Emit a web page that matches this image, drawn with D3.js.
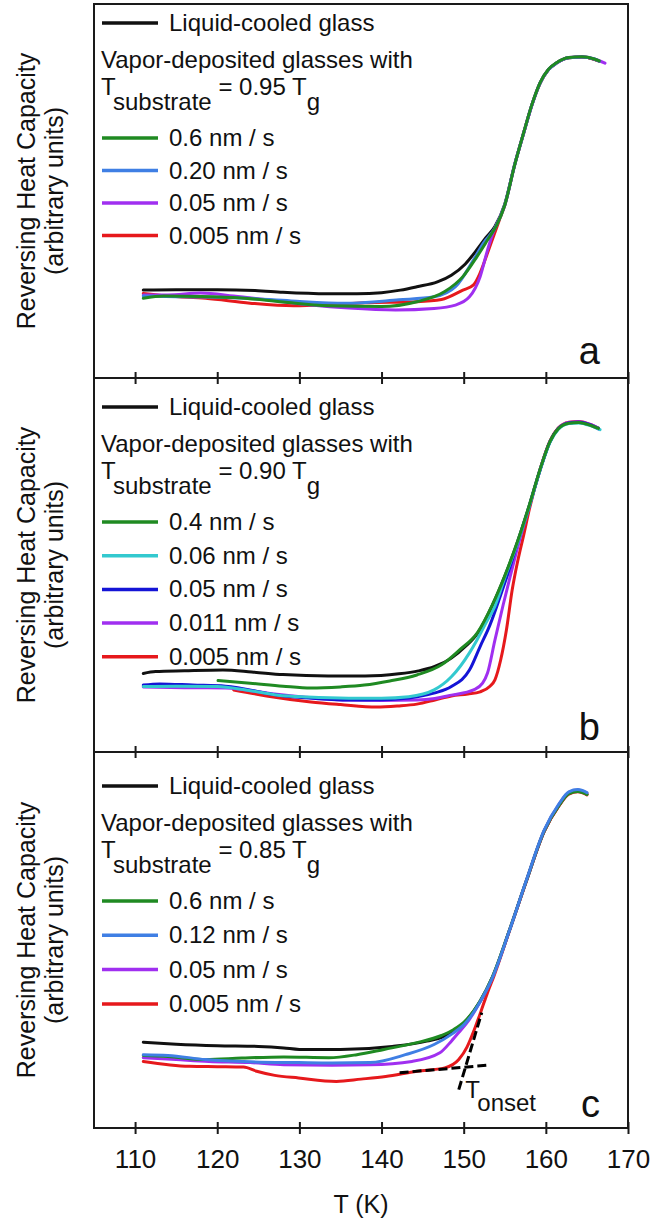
<!DOCTYPE html>
<html>
<head>
<meta charset="utf-8">
<script src="https://cdn.jsdelivr.net/npm/d3@7"></script>
<style>
  body { margin: 0; background: #fff; }
  svg text { font-family: "Liberation Sans", Arial, sans-serif; fill: #111; }
</style>
</head>
<body>
<svg id="chart" width="651" height="1224"></svg>
<script>
// x axis ticks (K)
var tempTicks = [110, 120, 130, 140, 150, 160, 170];

// Panel a : T substrate = 0.95 Tg   ([T in K, reversing Cp in arbitrary units])
var aLiquid = [[111,2.35],[115,2.36],[120,2.36],[124.6,2.34],[128,2.29],[133.5,2.25],[137,2.25],[140,2.28],[142.3,2.35],[144.3,2.44],[146.8,2.57],[148.5,2.75],[150.2,3.05],[151.5,3.40],[152.7,3.75],[153.8,4.05],[155,4.65],[156.2,5.70],[157.3,6.55],[158.3,7.30],[159.3,7.88],[160.3,8.24],[161.3,8.42],[162.8,8.56],[164.4,8.58],[165.9,8.52],[166.5,8.47]];
var a06 = [[111,2.13],[113.5,2.19],[118,2.18],[122.9,2.14],[128,2.03],[133.5,1.93],[140,1.91],[144.3,2.04],[147.7,2.31],[149.9,2.71],[151.6,3.24],[152.9,3.69],[154,4.08],[155,4.62],[156.2,5.69],[157.3,6.56],[158.3,7.31],[159.3,7.90],[160.3,8.25],[161.3,8.43],[162.8,8.57],[164.4,8.59],[165.9,8.53],[166.5,8.48]];
var a020 = [[111,2.19],[116,2.17],[122.9,2.14],[129,2.06],[135.6,2.00],[142.1,2.09],[146.4,2.17],[149,2.44],[151.2,3.16],[152.4,3.61],[153.8,4.01],[155,4.63],[156.2,5.70],[157.3,6.55],[158.3,7.30],[159.3,7.89],[160.3,8.24],[161.3,8.42],[162.8,8.56],[164.4,8.58],[165.9,8.53],[166.5,8.47]];
var a005 = [[111,2.22],[114,2.22],[118,2.27],[122,2.19],[126,2.09],[131.4,1.95],[136,1.87],[141.7,1.82],[146.4,1.86],[149,1.95],[150.7,2.17],[152,2.71],[152.9,3.42],[153.6,3.90],[154.3,4.25],[155,4.62],[156.2,5.70],[157.3,6.55],[158.3,7.30],[159.3,7.89],[160.3,8.24],[161.3,8.42],[162.8,8.57],[164.4,8.59],[165.9,8.53],[167.2,8.42]];
var a0005 = [[111,2.26],[114,2.19],[118.6,2.13],[124,2.00],[129.3,1.93],[133,1.95],[137.9,2.01],[144.3,2.04],[147.3,2.10],[149.9,2.35],[151.2,2.49],[152,2.81],[152.9,3.34],[153.6,3.77],[154.3,4.20],[155,4.62],[156.2,5.70],[157.3,6.55],[158.3,7.30],[159.3,7.89],[160.3,8.24],[161.3,8.42],[162.8,8.56],[164.4,8.58],[165.9,8.52],[166.5,8.47]];
var aRates = ['0.6 nm / s', '0.20 nm / s', '0.05 nm / s', '0.005 nm / s'];

// Panel b : T substrate = 0.90 Tg
var bLiquid = [[111,2.10],[112.5,2.15],[116,2.17],[120.7,2.19],[124.2,2.14],[128,2.07],[133.5,2.03],[138,2.03],[142.1,2.09],[144.5,2.17],[146.4,2.28],[148.5,2.51],[150.2,2.82],[151.7,3.18],[153.5,3.93],[155,4.70],[156.6,5.65],[158,6.60],[159.3,7.55],[160.5,8.30],[161.5,8.65],[162.8,8.80],[164,8.82],[165.5,8.74],[166.4,8.66]];
var b04 = [[120.1,1.91],[124,1.84],[128,1.76],[131.4,1.71],[135,1.74],[137.9,1.79],[141,1.90],[144.3,2.06],[147.3,2.33],[149.5,2.73],[151.7,3.20],[153.5,3.94],[155,4.71],[156.6,5.66],[158,6.61],[159.3,7.56],[160.5,8.30],[161.5,8.64],[162.8,8.79],[164,8.81],[165.5,8.73],[166.4,8.65]];
var b006 = [[111,1.75],[115,1.76],[120,1.75],[123.5,1.66],[127.4,1.52],[131,1.47],[136,1.44],[140,1.44],[143.3,1.48],[146.4,1.66],[148.5,2.01],[150.7,2.65],[151.6,2.99],[152.7,3.45],[153.8,3.90],[155,4.66],[156.6,5.62],[158,6.58],[159.3,7.54],[160.5,8.28],[161.5,8.62],[162.8,8.78],[164,8.80],[165.5,8.72],[166.6,8.62]];
var b005 = [[111,1.79],[113,1.82],[117,1.79],[121,1.76],[127.4,1.52],[132,1.43],[136,1.39],[140,1.40],[144.3,1.48],[146.5,1.58],[148.5,1.75],[150.7,2.19],[152,2.82],[153.2,3.40],[154.5,4.20],[155.5,4.85],[156.6,5.62],[158,6.58],[159.3,7.54],[160.5,8.29],[161.5,8.64],[162.8,8.80],[164,8.82],[165.5,8.74],[166.4,8.64]];
var b0011 = [[111,1.74],[116,1.72],[121,1.71],[127,1.55],[132,1.44],[136,1.39],[140,1.38],[144.3,1.39],[146.5,1.43],[148.5,1.52],[151.2,1.66],[152.3,1.84],[152.9,2.11],[153.8,2.99],[154.8,3.93],[155.7,4.73],[156.6,5.50],[158,6.58],[159.3,7.55],[160.5,8.30],[161.5,8.65],[162.8,8.81],[164,8.83],[165.5,8.75],[166.4,8.66]];
var b0005 = [[122,1.66],[126,1.50],[131.4,1.34],[135,1.27],[139.4,1.20],[142,1.23],[144.3,1.28],[146.5,1.39],[148.5,1.50],[150.5,1.55],[152,1.61],[153.2,1.76],[153.8,1.93],[154.5,2.46],[155.2,3.26],[155.9,4.33],[156.6,5.13],[157.3,5.80],[158,6.50],[159.3,7.56],[160.5,8.31],[161.5,8.66],[162.8,8.82],[164,8.84],[165.5,8.75],[166,8.70]];
var bRates = ['0.4 nm / s', '0.06 nm / s', '0.05 nm / s', '0.011 nm / s', '0.005 nm / s'];

// Panel c : T substrate = 0.85 Tg
var cLiquid = [[111,2.28],[115,2.23],[120,2.19],[125,2.17],[128.1,2.13],[130,2.09],[135,2.09],[141.3,2.17],[145.5,2.31],[148.2,2.49],[150.2,2.83],[152,3.37],[153.5,4.01],[155.5,5.21],[157.6,6.55],[159.8,7.89],[161.6,8.58],[162.8,8.90],[163.9,8.96],[165,8.88]];
var c06 = [[111,1.93],[114,1.90],[118.6,1.82],[123,1.86],[128.1,1.89],[133.6,1.87],[137,1.95],[140.3,2.09],[144.3,2.27],[147.3,2.46],[148.8,2.62],[150.2,2.85],[152,3.38],[153.5,4.02],[155.5,5.22],[157.6,6.56],[159.8,7.90],[161.6,8.58],[162.8,8.89],[163.9,8.95],[165,8.87]];
var c012 = [[111,1.95],[114,1.93],[118.6,1.82],[124,1.76],[129.9,1.74],[134,1.73],[138.6,1.74],[142.9,1.95],[146.4,2.22],[148.5,2.49],[150.3,2.81],[152,3.36],[153.5,4.00],[155.5,5.21],[157.6,6.57],[159.8,7.92],[161.6,8.62],[162.8,8.94],[163.9,9.00],[165,8.92]];
var c005 = [[111,1.87],[115,1.82],[119,1.77],[124,1.74],[128.1,1.68],[134,1.67],[138.6,1.68],[143.7,1.77],[147.1,2.00],[148.5,2.31],[149.4,2.54],[150.7,2.89],[152,3.36],[153.5,4.00],[155.5,5.21],[157.6,6.56],[159.8,7.91],[161.6,8.61],[162.8,8.93],[163.9,8.99],[165,8.91]];
var c0005 = [[111,1.77],[116.6,1.64],[120,1.63],[123.2,1.62],[124.8,1.51],[127,1.40],[129.9,1.33],[134.5,1.24],[137.5,1.30],[140.5,1.37],[144.3,1.51],[147.7,1.60],[149.4,1.82],[150.4,2.15],[151.3,2.62],[152.1,3.10],[152.9,3.60],[153.7,4.05],[155.5,5.20],[157.6,6.55],[159.8,7.89],[161.6,8.57],[162.8,8.88],[163.9,8.94],[165,8.86]];
var cRates = ['0.6 nm / s', '0.12 nm / s', '0.05 nm / s', '0.005 nm / s'];
// construction lines for T onset (panel c)
var cOnsetBase = [[142.2,1.47],[152.9,1.67]];
var cOnsetTangent = [[149.4,1.02],[152.2,3.07]];

var colBlack = '#111111', colGreen = '#1f8a22', colBlue = '#3f7fe4', colPurple = '#a02ff0',
    colRed = '#e6191c', colCyan = '#33c9cf', colNavy = '#1414d6';

// panel set up, built from the arrays above
var panels = [
    { letter: 'a', ratio: '0.95', top: 4, bottom: 378, legTop: 19, letterY: 364,
      series: [
        { data: aLiquid, color: colBlack }, { data: a0005, color: colRed },
        { data: a005, color: colPurple }, { data: a020, color: colBlue }, { data: a06, color: colGreen }
      ],
      legend: [[a06, colGreen], [a020, colBlue], [a005, colPurple], [a0005, colRed]], rates: aRates, rowGap: 32.5 },
    { letter: 'b', ratio: '0.90', top: 378, bottom: 752, legTop: 29, letterY: 740,
      series: [
        { data: bLiquid, color: colBlack }, { data: b0005, color: colRed }, { data: b0011, color: colPurple },
        { data: b005, color: colNavy }, { data: b006, color: colCyan }, { data: b04, color: colGreen }
      ],
      legend: [[b04, colGreen], [b006, colCyan], [b005, colNavy], [b0011, colPurple], [b0005, colRed]], rates: bRates, rowGap: 33.7 },
    { letter: 'c', ratio: '0.85', top: 752, bottom: 1128, legTop: 34, letterY: 1117,
      series: [
        { data: cLiquid, color: colBlack }, { data: c0005, color: colRed }, { data: c005, color: colPurple },
        { data: c06, color: colGreen }, { data: c012, color: colBlue }
      ],
      legend: [[c06, colGreen], [c012, colBlue], [c005, colPurple], [c0005, colRed]], rates: cRates, rowGap: 34.3 }
];

var svg = d3.select('#chart');

var x = d3.scaleLinear()
    .domain([105, 170])
    .range([94, 628]);

var font = '"Liberation Sans", Arial, sans-serif';

panels.forEach(function(p, i) {
    var y = d3.scaleLinear()
        .domain([0, 10])
        .range([p.bottom, p.top]);

    var g = svg.append('g').attr('class', 'panel panel-' + p.letter);

    var line = d3.line()
        .x(function(d) { return x(d[0]); })
        .y(function(d) { return y(d[1]); })
        .curve(d3.curveMonotoneX);

    // Curves
    g.selectAll('.curve')
        .data(p.series)
        .enter()
        .append('path')
        .attr('class', 'curve')
        .attr('d', function(d) { return line(d.data); })
        .attr('fill', 'none')
        .attr('stroke', function(d) { return d.color; })
        .attr('stroke-width', 3)
        .attr('stroke-linejoin', 'round')
        .attr('stroke-linecap', 'round');

    // T onset construction (only panel c)
    if (p.letter === 'c') {
        [cOnsetBase, cOnsetTangent].forEach(function(seg) {
            g.append('path')
                .attr('d', d3.line().x(function(d) { return x(d[0]); }).y(function(d) { return y(d[1]); })(seg))
                .attr('fill', 'none')
                .attr('stroke', '#000')
                .attr('stroke-width', 3)
                .attr('stroke-dasharray', '9,4');
        });
        var onset = g.append('text')
            .attr('x', x(150.2))
            .attr('y', y(0.8))
            .attr('font-size', '24px');
        onset.append('tspan').text('T');
        onset.append('tspan').attr('dy', 13).text('onset');
    }

    // Frame
    g.append('rect')
        .attr('x', x.range()[0])
        .attr('y', p.top)
        .attr('width', x.range()[1] - x.range()[0])
        .attr('height', p.bottom - p.top)
        .attr('fill', 'none')
        .attr('stroke', '#1a1a1a')
        .attr('stroke-width', 2);

    // Bottom axis, ticks crossing the frame
    var axis = g.append('g')
        .attr('class', 'x axis')
        .attr('transform', 'translate(0,' + p.bottom + ')')
        .call(
            d3.axisBottom(x)
                .tickValues(tempTicks)
                .tickSize(6)
                .tickPadding(18)
        );
    axis.select('.domain').remove();
    axis.selectAll('.tick line')
        .attr('y1', -6)
        .attr('y2', 6)
        .attr('stroke', '#1a1a1a')
        .attr('stroke-width', 2);
    if (i < panels.length - 1) {
        axis.selectAll('.tick text').remove();
    } else {
        axis.selectAll('.tick text')
            .attr('font-family', font)
            .attr('font-size', '26px')
            .attr('fill', '#111')
            .attr('dy', '0.6em');
    }

    // Y label
    var cy = (p.top + p.bottom) / 2;
    g.append('text')
        .attr('transform', 'translate(35,' + cy + ') rotate(-90)')
        .attr('text-anchor', 'middle')
        .attr('font-size', '25px')
        .text('Reversing Heat Capacity');
    g.append('text')
        .attr('transform', 'translate(63,' + cy + ') rotate(-90)')
        .attr('text-anchor', 'middle')
        .attr('font-size', '25px')
        .text('(arbitrary units)');

    // Legend
    var lx0 = 102, lx1 = 158, tx = 169;
    var top = p.top + p.legTop;
    g.append('line')
        .attr('x1', lx0).attr('x2', lx1)
        .attr('y1', top).attr('y2', top)
        .attr('stroke', colBlack)
        .attr('stroke-width', 3.5);
    g.append('text')
        .attr('x', tx).attr('y', top + 8)
        .attr('font-size', '24px')
        .text('Liquid-cooled glass');
    g.append('text')
        .attr('x', 101).attr('y', top + 45)
        .attr('font-size', '24px')
        .text('Vapor-deposited glasses with');
    var sub = g.append('text')
        .attr('x', 101).attr('y', top + 72)
        .attr('font-size', '24px');
    sub.append('tspan').text('T');
    sub.append('tspan').attr('dy', 15).text('substrate');
    sub.append('tspan').attr('dy', -15).text(' = ' + p.ratio + ' T');
    sub.append('tspan').attr('dy', 15).text('g');

    var rows = g.selectAll('.legend-row')
        .data(p.legend)
        .enter()
        .append('g')
        .attr('class', 'legend-row')
        .attr('transform', function(d, k) {
            return 'translate(0,' + (top + 115 + k * p.rowGap) + ')';
        });
    rows.append('line')
        .attr('x1', lx0).attr('x2', lx1)
        .attr('stroke', function(d) { return d[1]; })
        .attr('stroke-width', 3.5);
    rows.append('text')
        .attr('x', tx).attr('y', 8)
        .attr('font-size', '24px')
        .text(function(d, k) { return p.rates[k]; });

    // Panel letter
    g.append('text')
        .attr('x', 600)
        .attr('y', p.letterY)
        .attr('text-anchor', 'end')
        .attr('font-size', '38px')
        .text(p.letter);
});

// X axis title
svg.append('text')
    .attr('x', (x.range()[0] + x.range()[1]) / 2)
    .attr('y', 1213)
    .attr('text-anchor', 'middle')
    .attr('font-size', '25px')
    .text('T (K)');
</script>
</body>
</html>
